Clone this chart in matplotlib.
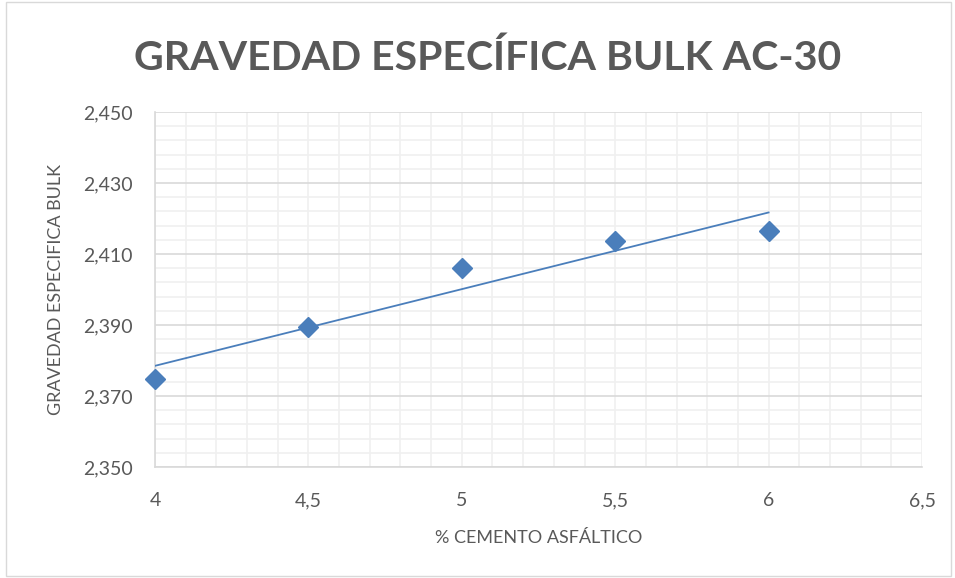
import matplotlib
matplotlib.use("Agg")
import matplotlib.pyplot as plt
import numpy as np
from matplotlib.ticker import MultipleLocator, FuncFormatter

# data
cemento = [4.0, 4.5, 5.0, 5.5, 6.0]
gravedad = [2.3748, 2.3893, 2.4061, 2.4137, 2.4166]

titulo = "GRAVEDAD ESPECÍFICA BULK AC-30"
xlabel = "% CEMENTO ASFÁLTICO"
ylabel = "GRAVEDAD ESPECIFICA BULK"

gris = "#595959"
azul = "#4a7ebb"

plt.rcParams['font.family'] = ['Lato', 'DejaVu Sans']

fig = plt.figure(figsize=(9.55, 5.78), dpi=100)
ax = fig.add_axes([155/955, 111/578, (922-155)/955, (467-112)/578])

# trendline (linear fit)
m, b = np.polyfit(cemento, gravedad, 1)
xt = np.array([cemento[0], cemento[-1]])
ax.plot(xt, m*xt + b, color=azul, lw=1.3, zorder=3)
ax.plot(cemento, gravedad, ls="none", marker="D", ms=10, color=azul, zorder=4, clip_on=False)

ax.set_xlim(4, 6.5)
ax.set_ylim(2.35, 2.45)
ax.xaxis.set_major_locator(MultipleLocator(0.5))
ax.xaxis.set_minor_locator(MultipleLocator(0.1))
ax.yaxis.set_major_locator(MultipleLocator(0.02, offset=0.01))
ax.yaxis.set_minor_locator(MultipleLocator(0.004, offset=0.002))

def coma(v, fmt):
    return fmt.format(v).replace(".", ",")
ax.xaxis.set_major_formatter(FuncFormatter(lambda v, p: coma(v, "{:g}")))
ax.yaxis.set_major_formatter(FuncFormatter(lambda v, p: coma(v, "{:.3f}")))

ax.grid(True, which="minor", color="#f0f0f0", lw=1.2, zorder=0)
ax.grid(True, which="major", axis="y", color="#d9d9d9", lw=1.2, zorder=1)
ax.grid(True, which="major", axis="x", color="#f0f0f0", lw=1.2, zorder=0)
ax.set_axisbelow(True)

for s in ["top", "right"]:
    ax.spines[s].set_visible(False)
for s in ["left", "bottom"]:
    ax.spines[s].set_color("#d9d9d9")
    ax.spines[s].set_linewidth(1.2)

ax.tick_params(which="both", length=0, colors=gris, labelsize=14)
ax.tick_params(axis="x", pad=18)
ax.tick_params(axis="y", pad=16)

ax.set_xlabel(xlabel, fontsize=13, color=gris, labelpad=15)
ax.set_ylabel(ylabel, fontsize=13, color=gris, labelpad=14)

fig.text(488/955, 0.9, titulo, ha="center", va="center", fontsize=29.5,
         fontweight="bold", color=gris)

# chart area border
fig.patches.append(plt.Rectangle((0.006, 0.003), 0.99, 0.994, transform=fig.transFigure,
                                 fill=False, edgecolor="#d9d9d9", lw=1))

fig.savefig("out.png", dpi=100)
